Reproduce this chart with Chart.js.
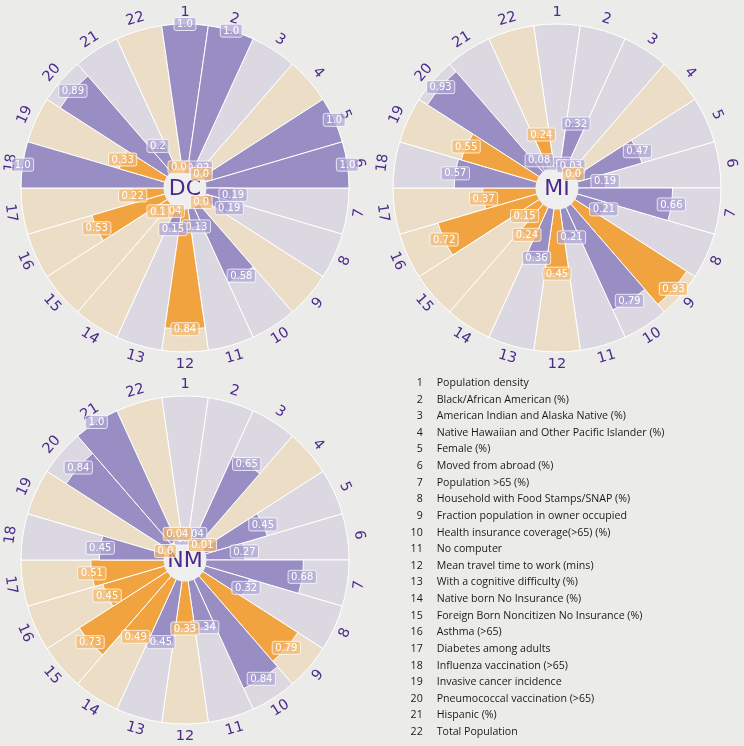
<!DOCTYPE html>
<html><head><meta charset="utf-8">
<script src="https://cdn.jsdelivr.net/npm/chart.js@4.4.1/dist/chart.umd.min.js"></script>
<style>
html,body{margin:0;padding:0;background:#ebebe9;width:744px;height:746px;overflow:hidden;}
.wrap{position:absolute;}
#legend{position:absolute;left:400px;top:374px;font-family:'Open Sans',sans-serif;color:#1a1a1a;}
#legend .row{position:absolute;left:0;white-space:nowrap;height:16px;line-height:16px;}
#legend .num{position:absolute;text-align:right;width:30px;}
</style></head><body>
<div class="wrap" style="left:0;top:0"><canvas id="cDC" width="372" height="376"></canvas></div>
<div class="wrap" style="left:372px;top:0"><canvas id="cMI" width="372" height="376"></canvas></div>
<div class="wrap" style="left:0;top:372px"><canvas id="cNM" width="372" height="374"></canvas></div>
<div id="legend"></div>
<script>
// ---------- data ----------
const categories = ['1','2','3','4','5','6','7','8','9','10','11','12','13','14','15','16','17','18','19','20','21','22'];
const categoryNames = [
  'Population density',
  'Black/African American (%)',
  'American Indian and Alaska Native (%)',
  'Native Hawaiian and Other Pacific Islander (%)',
  'Female (%)',
  'Moved from abroad (%)',
  'Population >65 (%)',
  'Household with Food Stamps/SNAP (%)',
  'Fraction population in owner occupied',
  'Health insurance coverage(>65) (%)',
  'No computer',
  'Mean travel time to work (mins)',
  'With a cognitive difficulty (%)',
  'Native born No Insurance (%)',
  'Foreign Born Noncitizen No Insurance (%)',
  'Asthma (>65)',
  'Diabetes among adults',
  'Influenza vaccination (>65)',
  'Invasive cancer incidence',
  'Pneumococcal vaccination (>65)',
  'Hispanic (%)',
  'Total Population'
];
// colour group per category: 'p' = purple, 'o' = orange
const categoryGroup = ['p','p','p','o','p','p','p','p','o','p','p','o','p','o','o','o','o','p','o','p','p','o'];
const stateNames = ['DC','MI','NM'];
const dcValues = [1.0,1.0,0.02,0.0,1.0,1.0,0.19,0.19,0.0,0.58,0.13,0.84,0.15,0.04,0.1,0.53,0.22,1.0,0.33,0.89,0.2,0.0];
const miValues = [0.02,0.32,0.03,0.0,0.47,0.19,0.66,0.21,0.93,0.79,0.21,0.45,0.36,0.24,0.15,0.72,0.37,0.57,0.55,0.93,0.08,0.24];
const nmValues = [0.0,0.04,0.65,0.01,0.45,0.27,0.68,0.32,0.79,0.84,0.34,0.33,0.45,0.49,0.73,0.45,0.51,0.45,0.0,0.84,1.0,0.04];
const fullValues = [1,1,1,1,1,1,1,1,1,1,1,1,1,1,1,1,1,1,1,1,1,1];

// ---------- style ----------
const PURPLE = '#998ec3', ORANGE = '#f1a340';
const LPURPLE = '#dbd8e1', BEIGE = '#ecddc7';
const BOX_P = 'rgba(174,165,214,0.7)', BOX_O = 'rgba(245,184,108,0.7)';
const TXT = '#4b2a8c';
const HOLE = '#efefef';

function fmt(v){ const s = String(v); return s.indexOf('.')<0 ? s + '.0' : s; }

function roundRect(ctx,x,y,w,h,r){
  ctx.beginPath();
  ctx.moveTo(x+r,y); ctx.lineTo(x+w-r,y); ctx.quadraticCurveTo(x+w,y,x+w,y+r);
  ctx.lineTo(x+w,y+h-r); ctx.quadraticCurveTo(x+w,y+h,x+w-r,y+h);
  ctx.lineTo(x+r,y+h); ctx.quadraticCurveTo(x,y+h,x,y+h-r);
  ctx.lineTo(x,y+r); ctx.quadraticCurveTo(x,y,x+r,y); ctx.closePath();
}

function decor(state, values){
  return {
    id:'decor',
    afterDatasetsDraw(chart){
      const ctx = chart.ctx, s = chart.scales.r;
      const cx = s.xCenter, cy = s.yCenter, R = s.drawingArea;
      const n = categories.length;
      ctx.save();
      // hole
      ctx.beginPath(); ctx.arc(cx, cy, s.getDistanceFromCenterForValue(0), 0, Math.PI*2);
      ctx.fillStyle = HOLE; ctx.fill();
      // state name
      ctx.fillStyle = TXT; ctx.font = "22px 'DejaVu Sans'";
      ctx.textAlign='center'; ctx.textBaseline='middle';
      ctx.fillText(state, cx, cy+1);
      // category numbers
      ctx.font = "14.5px 'DejaVu Sans'";
      for(let i=0;i<n;i++){
        const th = i*360/n;
        const a = th*Math.PI/180;
        const x = cx + (R+12)*Math.sin(a), y = cy - (R+12)*Math.cos(a);
        let rot = th; if (th>90 && th<270) rot = th-180; else if (th>=270) rot = th-360;
        ctx.save(); ctx.translate(x,y); ctx.rotate(rot*Math.PI/180);
        ctx.fillStyle = TXT; ctx.fillText(categories[i],0,0); ctx.restore();
      }
      // value labels
      ctx.font = "10px 'DejaVu Sans'";
      for(let i=0;i<n;i++){
        const v = values[i];
        const a = i*2*Math.PI/n;
        const r = s.getDistanceFromCenterForValue(v);
        const x = cx + r*Math.sin(a), y = cy - r*Math.cos(a);
        const t = fmt(v);
        const w = ctx.measureText(t).width + 6, h = 13;
        roundRect(ctx, x-w/2, y-h/2, w, h, 2);
        ctx.fillStyle = categoryGroup[i]==='o' ? BOX_O : BOX_P; ctx.fill();
        ctx.strokeStyle = 'rgba(255,255,255,0.75)'; ctx.lineWidth = 1; ctx.stroke();
        ctx.fillStyle = '#ffffff'; ctx.fillText(t, x, y+0.5);
      }
      ctx.restore();
    }
  };
}

function makeChart(id, state, values){
  const fg = categoryGroup.map(g => g==='o' ? ORANGE : PURPLE);
  const bg = categoryGroup.map(g => g==='o' ? BEIGE : LPURPLE);
  return new Chart(document.getElementById(id), {
    type:'polarArea',
    data:{ labels: categories, datasets:[
      { data: values, backgroundColor: fg, borderColor:'#ffffff', borderWidth:1, order:0 },
      { data: fullValues, backgroundColor: bg, borderColor:'#ffffff', borderWidth:1, order:1 }
    ]},
    options:{
      responsive:false, animation:false, events:[],
      layout:{ padding:{ left:21, right:22, top:24, bottom: (id==='cNM'?21:23) } },
      plugins:{ legend:{display:false}, tooltip:{enabled:false} },
      scales:{ r:{ min:-0.151, max:1, startAngle:-360/44,
        ticks:{display:false}, grid:{display:false}, angleLines:{display:false}, pointLabels:{display:false} } }
    },
    plugins:[decor(state, values)]
  });
}
makeChart('cDC', stateNames[0], dcValues);
makeChart('cMI', stateNames[1], miValues);
makeChart('cNM', stateNames[2], nmValues);

// ---------- legend ----------
(function(){
  const mctx = document.createElement('canvas').getContext('2d');
  mctx.font = "100px 'Open Sans'";
  const fs = 100*228/mctx.measureText(categoryNames[3]).width;
  const lg = document.getElementById('legend');
  lg.style.fontSize = fs.toFixed(2)+'px';
  categoryNames.forEach((name,i)=>{
    const row = document.createElement('div'); row.className='row';
    row.style.top = (i*16.62) + 'px';
    const num = document.createElement('span'); num.className='num'; num.textContent = categories[i];
    num.style.left = '-7.3px';
    const tx = document.createElement('span'); tx.textContent = name;
    tx.style.position='absolute'; tx.style.left='36.7px';
    row.appendChild(num); row.appendChild(tx); lg.appendChild(row);
  });
})();
</script>
</body></html>
